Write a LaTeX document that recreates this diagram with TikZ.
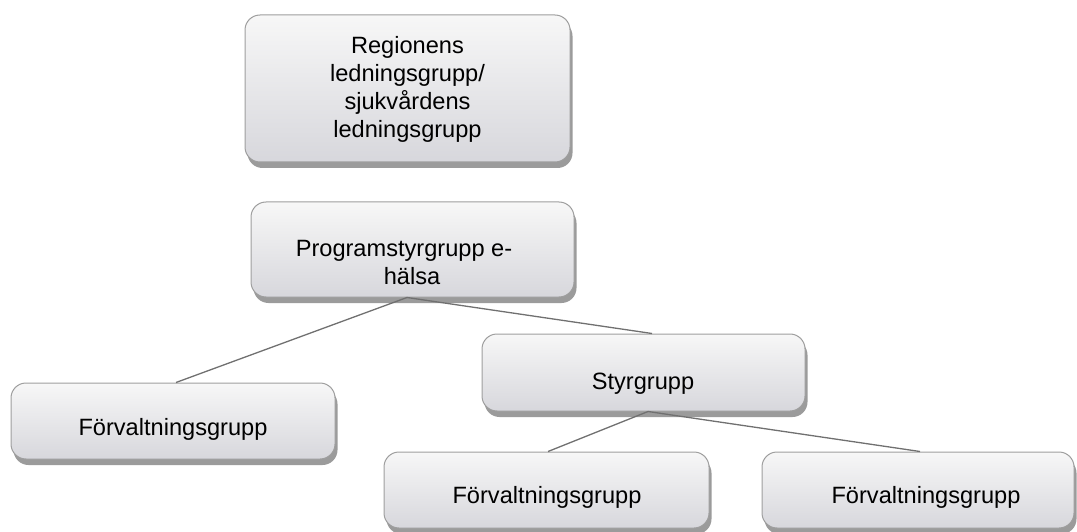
\documentclass[tikz,border=0pt]{standalone}
\usepackage{fontspec}
\setmainfont{Liberation Sans}
\usetikzlibrary{shadows}
\definecolor{boxtop}{RGB}{247,247,247}
\definecolor{boxbot}{RGB}{215,215,220}
\definecolor{boxline}{RGB}{158,158,158}
\definecolor{linkcol}{RGB}{112,112,112}
\definecolor{shadowcol}{RGB}{155,155,155}
\begin{document}
\begin{tikzpicture}[x=1pt,y=-1pt,
  orgbox/.style={draw=boxline, line width=1pt, rounded corners=15pt,
    top color=boxtop, bottom color=boxbot, inner sep=0pt,
    drop shadow={shadow xshift=2.5pt, shadow yshift=-6pt, fill=shadowcol, opacity=1}},
  lbl/.style={font=\fontsize{23.6}{28}\selectfont, align=center, inner sep=0pt, text=black},
  link/.style={draw=linkcol, line width=1.3pt}]
\useasboundingbox (0,0) rectangle (1077,532);

% boxes
\node[orgbox, minimum width=325pt, minimum height=147pt] (top)   at (407.5,88.5) {};
\node[orgbox, minimum width=323pt, minimum height=95pt]  (prog)  at (412.5,249.5) {};
\node[orgbox, minimum width=324pt, minimum height=76pt]  (left)  at (173,421) {};
\node[orgbox, minimum width=323pt, minimum height=77pt]  (styr)  at (643.5,372.5) {};
\node[orgbox, minimum width=325pt, minimum height=76pt]  (bone)  at (546.5,490) {};
\node[orgbox, minimum width=312pt, minimum height=76pt]  (btwo)  at (918,490) {};

% texts
\node[lbl] (toptxt)  at (407.5,89)  {Regionens\\ledningsgrupp/\\sjukvårdens\\ledningsgrupp};
\node[lbl] (progtxt) at (412,262.5) {Programstyrgrupp e-\rule{16pt}{0pt}\\hälsa};
\node[lbl] (lefttxt) at (173,429)   {Förvaltningsgrupp};
\node[lbl] (styrtxt) at (643,384)   {Styrgrupp};
\node[lbl] (bonetxt) at (547,497)   {Förvaltningsgrupp};
\node[lbl] (btwotxt) at (926,497)   {Förvaltningsgrupp};

% connectors
\draw[link] ([xshift=-5.5pt]prog.south) -- ([xshift=3pt]left.north);
\draw[link] ([xshift=-5.5pt]prog.south) -- ([xshift=8.5pt]styr.north);
\draw[link] ([xshift=4.5pt]styr.south) -- ([xshift=1.5pt]bone.north);
\draw[link] ([xshift=4.5pt]styr.south) -- ([xshift=2pt]btwo.north);
\end{tikzpicture}
\end{document}
